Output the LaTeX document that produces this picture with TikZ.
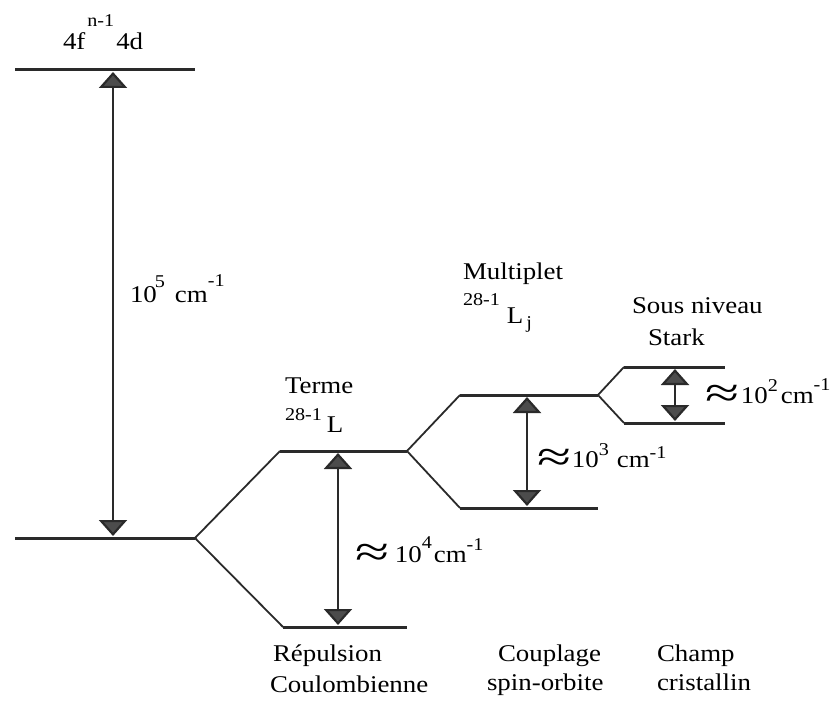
\documentclass[tikz,border=0pt]{standalone}
\usepackage{graphicx}
\usepackage{fontspec}
\setmainfont{Liberation Serif}[FakeStretch=1.12]
\usetikzlibrary{arrows.meta}
\definecolor{lvl}{HTML}{2A2A2A}
\definecolor{headgray}{HTML}{4C4C4C}
\newcommand\supsz{\fontsize{18}{18}\selectfont}
\newcommand\bigapx{\raisebox{-4pt}{\scalebox{2.3}[1.8]{≈}}}
\tikzset{
  level/.style={draw=lvl, line width=3pt},
  diag/.style={draw=lvl, line width=1.8pt},
  gap/.style={draw=lvl, line width=2.2pt,
    {Triangle[width=28pt,length=16pt,fill=headgray]}-{Triangle[width=28pt,length=16pt,fill=headgray]}},
  lbl/.style={anchor=base west, inner sep=0pt, outer sep=0pt},
}
\begin{document}
\begin{tikzpicture}[x=1pt,y=-1pt,font=\fontsize{24}{32}\selectfont]
\useasboundingbox (0,0) rectangle (836,701);
% level coordinates
\coordinate (t1) at (15,70);   \coordinate (t2) at (195,70);
\coordinate (g1) at (15,538);  \coordinate (g2) at (195,538);
\coordinate (a1) at (280,451); \coordinate (a2) at (407,451);
\coordinate (b1) at (283,627); \coordinate (b2) at (407,627);
\coordinate (m1) at (460,395); \coordinate (m2) at (598,395);
\coordinate (n1) at (460,508); \coordinate (n2) at (598,508);
\coordinate (s1) at (624,367); \coordinate (s2) at (725,367);
\coordinate (r1) at (624,423); \coordinate (r2) at (725,423);
% levels
\draw[level] (t1) -- (t2);
\draw[level] (g1) -- (g2);
\draw[level] (a1) -- (a2);
\draw[level] (b1) -- (b2);
\draw[level] (m1) -- (m2);
\draw[level] (n1) -- (n2);
\draw[level] (s1) -- (s2);
\draw[level] (r1) -- (r2);
% splittings
\draw[diag] (g2) -- (a1);
\draw[diag] (g2) -- (b1);
\draw[diag] (a2) -- (m1);
\draw[diag] (a2) -- (n1);
\draw[diag] (m2) -- (s1);
\draw[diag] (m2) -- (r1);
% gap arrows
\coordinate (A1) at (113,72);  \coordinate (A2) at (113,536);
\coordinate (B1) at (338,453); \coordinate (B2) at (338,625);
\coordinate (C1) at (527,397); \coordinate (C2) at (527,506);
\coordinate (D1) at (675,369); \coordinate (D2) at (675,421);
\draw[gap] (A1) -- (A2);
\draw[gap] (B1) -- (B2);
\draw[gap] (C1) -- (C2);
\draw[gap] (D1) -- (D2);
% labels
\node[lbl] (top) at (63,50) {4f\hspace{2pt}\raisebox{23pt}{\supsz n-1}\hspace{2pt}4d};
\node[lbl] (e5) at (130,302) {10\hspace{-2pt}\raisebox{15pt}{\supsz 5}\hspace{10pt}cm\raisebox{16pt}{\supsz -1}};
\node[lbl] (e4) at (355,562) {\bigapx\hspace{6pt}10\raisebox{14pt}{\supsz 4}\hspace{2pt}cm\raisebox{12pt}{\supsz -1}};
\node[lbl] (e3) at (537,467) {\bigapx\hspace{1pt}10\raisebox{12pt}{\supsz 3}\hspace{8pt}cm\raisebox{9pt}{\supsz -1}};
\node[lbl] (e2) at (705,403) {\bigapx\hspace{2pt}10\raisebox{12pt}{\supsz 2}\hspace{3pt}cm\raisebox{13pt}{\supsz -1}};
\node[lbl] (terme) at (285,393) {Terme};
\node[lbl] (termeL) at (285,432) {\raisebox{12pt}{\supsz 28-1}\hspace{5pt}L};
\node[lbl] (mult) at (463,279) {Multiplet};
\node[lbl] (multL) at (463,323) {\raisebox{18pt}{\supsz 28-1}\hspace{7pt}L\hspace{3pt}\raisebox{-5pt}{\supsz j}};
\node[lbl] (sous) at (632,313) {Sous niveau};
\node[lbl] (stark) at (648,345) {Stark};
\node[lbl] (rep) at (273,661) {Répulsion};
\node[lbl] (coul) at (270,692) {Coulombienne};
\node[lbl] (coup) at (498,661) {Couplage};
\node[lbl] (spin) at (487,690) {spin-orbite};
\node[lbl] (champ) at (657,661) {Champ};
\node[lbl] (crist) at (657,690) {cristallin};
\end{tikzpicture}
\end{document}
